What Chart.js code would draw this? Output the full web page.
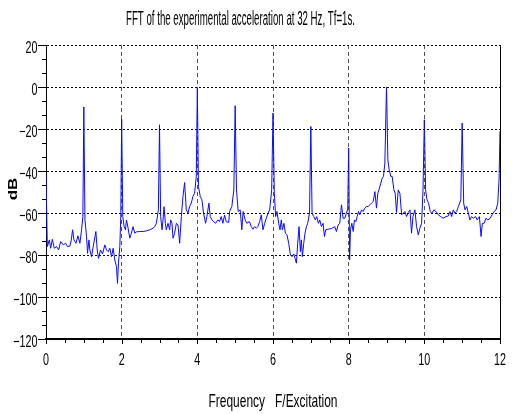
<!DOCTYPE html>
<html>
<head>
<meta charset="utf-8">
<title>FFT aceleracion</title>
<script src="https://cdn.jsdelivr.net/npm/chart.js@4/dist/chart.umd.min.js"></script>
<style>
  html, body { margin: 0; padding: 0; background: #fff; }
  #graph { width: 512px; height: 414px; }
</style>
</head>
<body>
<div id="graph"><canvas id="grafico" width="512" height="414"></canvas></div>
<script>
// valores (F/Excitacion, dB)
var frecuencias = [
  0, 0.035, 0.088, 0.123, 0.167, 0.22, 0.281, 0.334, 0.387, 0.457, 0.518, 0.571, 0.633, 0.668, 0.703, 0.738, 0.791, 0.844, 0.896, 0.94, 0.975,
  1.0, 1.03, 1.072, 1.098, 1.134, 1.16, 1.204, 1.248, 1.318, 1.353, 1.388, 1.441, 1.494, 1.555, 1.599, 1.643, 1.687, 1.731, 1.775, 1.819, 1.863, 1.889, 1.916, 1.951, 1.977,
  2.0, 2.03, 2.065, 2.1, 2.127, 2.17, 2.214, 2.258, 2.302, 2.346, 2.39, 2.478, 2.566, 2.654, 2.742, 2.83, 2.873, 2.917, 2.97,
  3.0, 3.03, 3.067, 3.093, 3.12, 3.155, 3.18, 3.225, 3.269, 3.295, 3.33, 3.357, 3.4, 3.445, 3.489, 3.533, 3.577, 3.62, 3.664, 3.708, 3.752, 3.796, 3.84, 3.884, 3.928, 3.972,
  4.0, 4.03, 4.077, 4.121, 4.165, 4.218, 4.253, 4.306, 4.341, 4.385, 4.429, 4.482, 4.543, 4.587, 4.631, 4.675, 4.72, 4.763, 4.83, 4.851, 4.912, 4.965,
  5.0, 5.035, 5.08, 5.132, 5.176, 5.21, 5.264, 5.308, 5.378, 5.426, 5.47, 5.514, 5.56, 5.6, 5.647, 5.69, 5.735, 5.78, 5.823, 5.868, 5.912, 5.965,
  6.0, 6.035, 6.07, 6.106, 6.15, 6.185, 6.22, 6.247, 6.29, 6.327, 6.37, 6.415, 6.46, 6.503, 6.547, 6.583, 6.618, 6.653, 6.688, 6.724, 6.75, 6.777, 6.812, 6.847, 6.883, 6.918, 6.965,
  7.0, 7.033, 7.077, 7.12, 7.156, 7.2, 7.236, 7.28, 7.324, 7.36, 7.394, 7.456, 7.545, 7.633, 7.677, 7.72, 7.765, 7.81, 7.853, 7.898, 7.94, 7.975,
  8.0, 8.025, 8.048, 8.083, 8.12, 8.153, 8.19, 8.224, 8.26, 8.295, 8.34, 8.383, 8.427, 8.47, 8.515, 8.56, 8.604, 8.65, 8.693, 8.736, 8.77, 8.8, 8.85, 8.886, 8.92, 8.957,
  9.0, 9.036, 9.07, 9.115, 9.15, 9.195, 9.23, 9.265, 9.31, 9.354, 9.4, 9.442, 9.486, 9.53, 9.575, 9.62, 9.662, 9.7, 9.75, 9.795, 9.84, 9.883, 9.928, 9.965,
  10.0, 10.034, 10.07, 10.113, 10.157, 10.2, 10.254, 10.307, 10.37, 10.43, 10.5, 10.572, 10.634, 10.678, 10.722, 10.766, 10.81, 10.854, 10.9, 10.965,
  11.0, 11.04, 11.075, 11.12, 11.163, 11.207, 11.25, 11.296, 11.35, 11.4, 11.455, 11.5, 11.534, 11.58, 11.63, 11.68, 11.737, 11.79, 11.843, 11.896, 11.94, 11.975,
  12.0
];
var amplitudes = [
  -42.6, -76, -72.8, -76.8, -72.5, -76.8, -76, -77.6, -73.6, -75.2, -74.4, -76, -75.7, -72.8, -68, -72.8, -74.4, -70.9, -74.4, -68, -61.7,
  -9.5, -63.3, -71.2, -79.2, -72.8, -77.6, -80.8, -76, -68.8, -77.6, -81.6, -77.6, -79.5, -75.2, -77.6, -78.4, -76.8, -80.8, -76.8, -82.4, -85.5, -93.5, -83.9, -76, -61.7,
  -15.3, -61.7, -66.5, -68, -63.3, -67.2, -72, -69.6, -66.5, -69.6, -69, -68.8, -68.8, -68.5, -68, -67.2, -66.5, -64.9, -58.5,
  -18, -61.7, -68, -63.3, -57, -64.9, -68, -64.9, -68, -63.3, -64.9, -72, -69.6, -64.9, -65.7, -74.4, -61.7, -52.1, -45.5, -58.5, -60.1, -56.9, -55.3, -52.1, -50.6, -42.6,
  -0.5, -47.4, -52.1, -53.7, -60.1, -64.9, -61.7, -55.3, -61.7, -63.3, -64.1, -64.9, -63.3, -64.1, -61.7, -64.9, -61, -64.1, -64.5, -59.3, -56.9, -49,
  -8.9, -49, -59.3, -58.5, -68, -59.3, -63.3, -64.9, -64.1, -66.5, -67.7, -66.5, -67.2, -66.5, -64.1, -60.9, -68, -64.9, -62.5, -60.1, -58.5, -49,
  -12.4, -50.6, -61.7, -59.3, -64.9, -68, -63.3, -68, -64.9, -69.6, -70.4, -74.4, -80, -80.8, -79.5, -81.6, -83.9, -74.4, -66.5, -78.4, -72.8, -80.8, -74.4, -69.6, -66.5, -64.9, -60.1,
  -18.8, -60.1, -61.7, -63.3, -61.7, -64.9, -63.3, -66.5, -64.9, -71.2, -68, -67.7, -67.4, -66.5, -68.8, -65.7, -64.9, -56.1, -62.5, -62.5, -60.1, -58,
  -29.1, -82.4, -68, -64.9, -68.8, -63.3, -64.1, -61.7, -59.3, -60.9, -58.5, -59.3, -57.7, -56.9, -56.9, -56.1, -55.3, -54.5, -49.8, -57.7, -50.6, -49, -45.8, -43.4, -42.6, -36.2,
  0, -34.7, -39.4, -42.6, -42.6, -49, -50.6, -59.8, -49, -50.6, -60.9, -60.1, -59.3, -61.7, -59.8, -58.5, -69.6, -61.7, -58.5, -66.5, -70.4, -67.2, -64.9, -49,
  -15.6, -49, -53.7, -55.3, -59.3, -60.1, -58.5, -59.3, -60.9, -61.7, -62.5, -61.7, -61.4, -59.3, -61.7, -58.5, -60.1, -59.3, -56.9, -53.7,
  -17.2, -55.3, -58.5, -56.9, -60.1, -63.3, -61.7, -62.5, -61.7, -63.3, -61.7, -71.2, -64.9, -64.9, -62.5, -63.3, -62.5, -60.9, -59.3, -58.5, -55.3, -44.2,
  -21.1
];
var ticksX = [0, 2, 4, 6, 8, 10, 12];
var ticksY = [20, 0, -20, -40, -60, -80, -100, -120];
var titulo = 'FFT of the experimental acceleration at 32 Hz, Tf=1s.';
var tituloX = 'Frequency   F/Excitation';
var tituloY = 'dB';

var fuente = "'Liberation Sans', Arial, sans-serif";

// texto estrecho: se escala en horizontal (o a un ancho fijo si se pasa)
function textoAngosto(ctx, texto, x, y, escala, ancho, align) {
  ctx.save();
  if (ancho) {
    escala = ancho / ctx.measureText(texto).width;
  }
  ctx.translate(x, y);
  ctx.scale(escala, 1);
  ctx.textAlign = align || 'center';
  ctx.fillText(texto, 0, 0);
  ctx.restore();
}

function $each(lista, fn) {
  for (var i = 0; i < lista.length; i++) {
    fn(lista[i], i);
  }
}

var marcas = {
  id: 'marcas',
  beforeDatasetsDraw: function(chart) {
    var ctx = chart.ctx;
    var a = chart.chartArea;
    var sx = chart.scales.x;
    var sy = chart.scales.y;
    ctx.save();
    ctx.strokeStyle = '#000';
    ctx.lineWidth = 1;
    ctx.setLineDash([]);
    ctx.beginPath();
    ctx.moveTo(a.right + 0.5, a.top);
    ctx.lineTo(a.right + 0.5, a.bottom);
    for (var i = 0; i <= 21; i++) {
      var py = Math.round(sy.getPixelForValue(-120 + i * 20 / 3)) + 0.5;
      var largo = (i % 3 == 0) ? 8 : 4;
      ctx.moveTo(a.left - largo, py);
      ctx.lineTo(a.left, py);
    }
    for (var j = 0; j <= 24; j++) {
      var px = Math.round(sx.getPixelForValue(j * 0.5)) + 0.5;
      var largoX = (j % 4 == 0) ? 5 : 4;
      ctx.moveTo(px, a.bottom);
      ctx.lineTo(px, a.bottom + largoX);
    }
    ctx.stroke();
    ctx.restore();
  },
  afterDraw: function(chart) {
    var ctx = chart.ctx;
    var a = chart.chartArea;
    var sx = chart.scales.x;
    var sy = chart.scales.y;
    ctx.save();
    ctx.fillStyle = '#000';
    ctx.textBaseline = 'alphabetic';

    ctx.font = '16.5px ' + fuente;
    $each(ticksY, function(v) {
      var etiqueta = String(v).replace('-', '\u2212');
      textoAngosto(ctx, etiqueta, 37.5, sy.getPixelForValue(v) + 7.5, 0.65, null, 'right');
    });
    $each(ticksX, function(v) {
      textoAngosto(ctx, String(v), sx.getPixelForValue(v), a.bottom + 26, 0.65, null, 'center');
    });

    ctx.font = '20px ' + fuente;
    textoAngosto(ctx, titulo, 240.5, 25, 1, 229, 'center');

    ctx.font = '18.5px ' + fuente;
    textoAngosto(ctx, tituloX, (a.left + a.right) / 2, 407, 1, 129, 'center');

    // etiqueta del eje y, girada
    ctx.font = 'bold 17px ' + fuente;
    ctx.translate(14, (a.top + a.bottom) / 2 - 3);
    ctx.rotate(-Math.PI / 2);
    ctx.scale(1, 0.72);
    ctx.textAlign = 'center';
    ctx.textBaseline = 'middle';
    ctx.fillText(tituloY, 0, 0);
    ctx.restore();
  }
};

var puntos = [];
$each(frecuencias, function(f, i) {
  puntos.push({x: f, y: amplitudes[i]});
});

var contexto = document.getElementById('grafico').getContext('2d');
var chart = new Chart(contexto, {
  type: 'line',
  data: {
    datasets: [{
      data: puntos,
      borderColor: '#0a0aff',
      borderWidth: 1,
      pointRadius: 0,
      tension: 0,
      fill: false
    }]
  },
  options: {
    responsive: false,
    animation: false,
    devicePixelRatio: 1,
    layout: { padding: { top: 45, right: 12, left: 0, bottom: 0 } },
    plugins: {
      legend: { display: false },
      title: { display: false },
      tooltip: { enabled: false }
    },
    scales: {
      x: {
        type: 'linear',
        min: 0,
        max: 12,
        ticks: { display: false, stepSize: 2 },
        grid: { color: '#555', lineWidth: 1, drawTicks: false },
        border: { display: true, color: '#000', width: 2, dash: [4, 3] },
        afterFit: function(s) { s.height = 75; }
      },
      y: {
        type: 'linear',
        min: -120,
        max: 20,
        ticks: { display: false, stepSize: 20 },
        grid: { color: '#000', lineWidth: 1, drawTicks: false },
        border: { display: true, color: '#000', width: 1, dash: [2, 2] },
        afterFit: function(s) { s.width = 46; }
      }
    }
  },
  plugins: [marcas]
});
</script>
</body>
</html>
